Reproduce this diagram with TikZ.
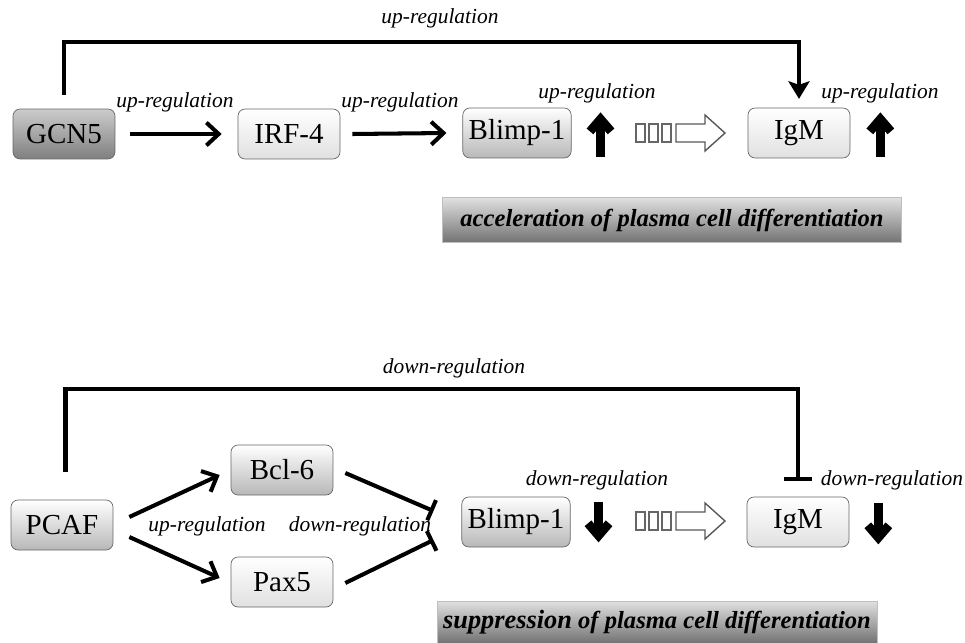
\documentclass[tikz,border=0pt]{standalone}
\usepackage{fontspec}
\setmainfont{Liberation Serif}
\usepackage{tikz}
\usetikzlibrary{arrows.meta, calc}

\begin{document}
\begin{tikzpicture}[
    x=0.02cm, y=-0.02cm,
    gene/.style={draw=black!60, rounded corners=4pt, minimum width=2.04cm,
                 minimum height=1cm, font=\fontsize{16.5}{18}\selectfont,
                 top color=white, bottom color=black!28},
    darkgene/.style={gene, top color=black!20, bottom color=black!50},
    palegene/.style={gene, top color=white, bottom color=black!12},
    banner/.style={draw=black!25, top color=black!12, bottom color=black!55,
                   minimum height=0.9cm, font=\bfseries\itshape\fontsize{14}{16}\selectfont},
    lab/.style={font=\itshape\fontsize{12.2}{14}\selectfont},
    act/.style={line width=2.3pt, -{Straight Barb[length=7pt,width=13pt]}},
    inh/.style={line width=2.3pt, -{Bar[width=12.5pt]}},
    level/.style={line width=5pt, -{Straight Barb[length=7pt,width=12pt]}},
    tofu/.style={draw=black!60, line width=0.7pt},
    hollow/.style={draw=black!65, fill=white, line width=0.8pt, line join=miter}
]
    \useasboundingbox (0,0) rectangle (965,643);

    % GCN5 row
    \node[darkgene] (gcn5) at (64,134) {GCN5};
    \node[palegene] (irf4) at (289,134) {IRF-4};
    \node[gene] (blimpA) at (517,133) {Blimp-1};
    \node[palegene] (igmA) at (799,133) {IgM};
    \node[banner, minimum width=9.18cm] (accel) at (672,220)
        {acceleration of plasma cell differentiation};

    \draw[act] ($(gcn5.east)+(15,0)$) -- ($(irf4.west)+(-16,0)$);
    \draw[act] ($(irf4.east)+(12,0)$) -- ($(blimpA.west)+(-16,0)$);
    \draw[line width=2.3pt, -{Stealth[length=10pt,width=12pt,inset=2pt]}]
        ([yshift=8pt]gcn5.north) -- ++(0,-53) -| ([yshift=5pt]igmA.north);
    \draw[level] ($(blimpA.south east)+(29,-1)$) -- ++(0,-45);
    \draw[level] ($(igmA.south east)+(30,-1)$) -- ++(0,-45);

    \node[lab] (upTop) at (440,18) {up-regulation};
    \node[lab] (upGI) at (175,102) {up-regulation};
    \node[lab] (upIB) at (400,102) {up-regulation};
    \node[lab] (upB) at (597,93) {up-regulation};
    \node[lab] (upM) at (880,93) {up-regulation};

    % PCAF row
    \node[gene] (pcaf) at (62,525) {PCAF};
    \node[gene] (bcl6) at (282,470) {Bcl-6};
    \node[palegene] (pax5) at (282,582) {Pax5};
    \node[gene] (blimpB) at (516,522) {Blimp-1};
    \node[palegene] (igmB) at (798,522) {IgM};
    \node[banner, minimum width=8.8cm, minimum height=0.84cm] (suppr) at (657,622)
        {{\fontsize{15}{17}\selectfont suppression} of plasma cell differentiation};

    \draw[act] ($(pcaf.east)+(16,-8)$) -- ($(bcl6.west)+(-11,5)$);
    \draw[act] ($(pcaf.east)+(16,12)$) -- ($(pax5.west)+(-11,-4)$);
    \draw[inh] ($(bcl6.east)+(12,3)$) -- ($(blimpB.west)+(-28,-11)$);
    \draw[inh] ($(pax5.east)+(12,1)$) -- ($(blimpB.west)+(-28,18)$);
    \draw[line width=2.3pt, -{Bar[width=16pt]}]
        ([xshift=2pt,yshift=16pt]pcaf.north) -- ++(0,-83) -| ([yshift=9pt]igmB.north);
    \draw[level] ($(blimpB.south east)+(28,-45)$) -- ++(0,40);
    \draw[level] ($(igmB.south east)+(29,-44)$) -- ++(0,41);

    \node[lab] (downTop) at (454,368) {down-regulation};
    \node[lab] (upPC) at (207,526) {up-regulation};
    \node[lab] (downBP) at (360,526) {down-regulation};
    \node[lab] (downB) at (597,480) {down-regulation};
    \node[lab] (downM) at (892,480) {down-regulation};

    % boxes and open arrow between Blimp-1 and IgM
    \foreach \y in {133,521} {
        \foreach \x in {636,649,662}
            \draw[tofu] (\x,\y-9) rectangle ++(9,18);
        \draw[hollow] (676,\y-9) -- ++(29,0) -- ++(0,-9) -- ++(20,18)
            -- ++(-20,18) -- ++(0,-9) -- ++(-29,0) -- cycle;
    }
\end{tikzpicture}
\end{document}
